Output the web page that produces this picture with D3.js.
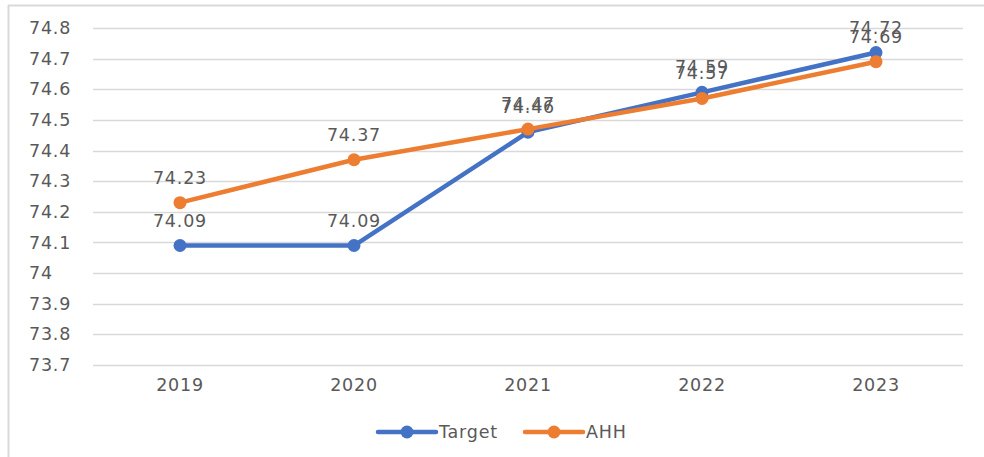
<!DOCTYPE html>
<html>
<head>
<meta charset="utf-8">
<script src="https://cdn.jsdelivr.net/npm/d3@7"></script>
<style>
  body { margin: 0; background: #fff; }
  svg { font-family: "DejaVu Sans", sans-serif; letter-spacing: 0.8px; }
</style>
</head>
<body>
<svg id="chart" width="984" height="457"></svg>
<script>
// Chart data
const years = ["2019", "2020", "2021", "2022", "2023"];
const targetValues = [74.09, 74.09, 74.46, 74.59, 74.72];
const ahhValues = [74.23, 74.37, 74.47, 74.57, 74.69];
const yTicks = [73.7, 73.8, 73.9, 74, 74.1, 74.2, 74.3, 74.4, 74.5, 74.6, 74.7, 74.8];

const series = [
    { name: "Target", values: targetValues, color: "#4472C4" },
    { name: "AHH", values: ahhValues, color: "#ED7D31" }
];

const svg = d3.select("#chart");
const textColor = "#595959";
const fontSize = 17.5;

// Outer frame (only top and left edges show)
svg.append("line").attr("x1", 8).attr("x2", 984).attr("y1", 5.5).attr("y2", 5.5)
    .attr("stroke", "#d9d9d9").attr("stroke-width", 2);
svg.append("line").attr("x1", 8.5).attr("x2", 8.5).attr("y1", 5).attr("y2", 457)
    .attr("stroke", "#d9d9d9").attr("stroke-width", 2);

// Scales
const x = d3.scaleBand().domain(years).range([93, 963]);
const y = d3.scaleLinear().domain([73.7, 74.8]).range([365, 28]);

// Gridlines
svg.append("g")
    .selectAll("line")
    .data(yTicks)
    .join("line")
    .attr("x1", 93)
    .attr("x2", 963)
    .attr("y1", d => Math.round(y(d)) + 0.5)
    .attr("y2", d => Math.round(y(d)) + 0.5)
    .attr("stroke", "#d9d9d9")
    .attr("stroke-width", 1.3);

// Y axis labels
svg.append("g")
    .selectAll("text")
    .data(yTicks)
    .join("text")
    .attr("x", 29)
    .attr("y", d => y(d))
    .attr("dy", "0.35em")
    .attr("fill", textColor)
    .attr("font-size", fontSize)
    .text(d => d);

// X axis labels
svg.append("g")
    .selectAll("text")
    .data(years)
    .join("text")
    .attr("x", d => x(d) + x.bandwidth() / 2)
    .attr("y", 391)
    .attr("text-anchor", "middle")
    .attr("fill", textColor)
    .attr("font-size", fontSize)
    .text(d => d);

const line = d3.line()
    .x((d, i) => x(years[i]) + x.bandwidth() / 2)
    .y(d => y(d));

// Lines and markers
series.forEach(s => {
    const g = svg.append("g");
    g.append("path")
        .attr("d", line(s.values))
        .attr("fill", "none")
        .attr("stroke", s.color)
        .attr("stroke-width", 4.5)
        .attr("stroke-linejoin", "round");
    g.selectAll("circle")
        .data(s.values)
        .join("circle")
        .attr("cx", (d, i) => x(years[i]) + x.bandwidth() / 2)
        .attr("cy", d => y(d))
        .attr("r", 6.5)
        .attr("fill", s.color);
});

// Value labels (they overlap in the original too)
series.forEach(s => {
    svg.append("g")
        .selectAll("text")
        .data(s.values)
        .join("text")
        .attr("x", (d, i) => x(years[i]) + x.bandwidth() / 2)
        .attr("y", d => y(d) - 19)
        .attr("text-anchor", "middle")
        .attr("fill", textColor)
        .attr("font-size", fontSize)
        .text(d => d);
});

// Legend
const legend = svg.append("g");
series.forEach((s, i) => {
    const lx = 378 + i * 147;
    legend.append("line")
        .attr("x1", lx).attr("x2", lx + 58)
        .attr("y1", 432).attr("y2", 432)
        .attr("stroke", s.color).attr("stroke-width", 4.5)
        .attr("stroke-linecap", "round");
    legend.append("circle")
        .attr("cx", lx + 29).attr("cy", 432).attr("r", 6.5)
        .attr("fill", s.color);
    legend.append("text")
        .attr("x", lx + 61).attr("y", 432)
        .attr("dy", "0.35em")
        .attr("fill", textColor)
        .attr("font-size", fontSize)
        .text(s.name);
});
</script>
</body>
</html>
